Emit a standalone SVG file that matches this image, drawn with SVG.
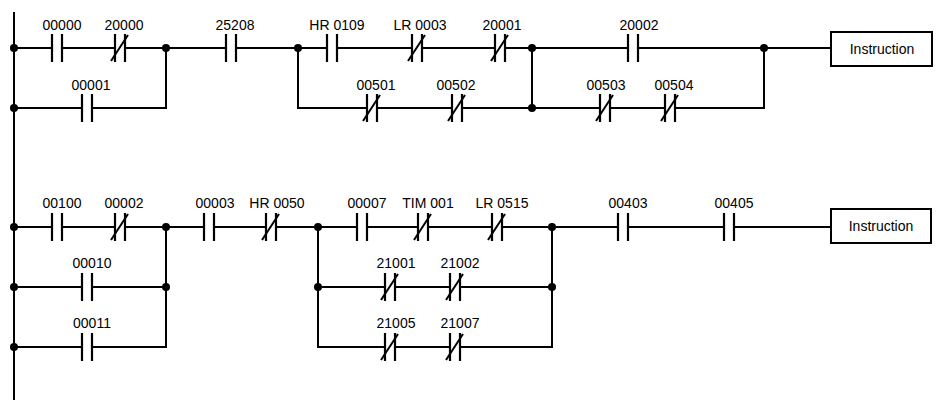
<svg xmlns="http://www.w3.org/2000/svg" width="940" height="415" viewBox="0 0 940 415">
<defs>
<style>
.w{stroke:#000;stroke-width:2;fill:none}
.t{font-family:"Liberation Sans",Arial,sans-serif;font-size:14px;fill:#000;text-anchor:middle}
.d{fill:#000}
</style>
<g id="no"><rect x="-4" y="-3" width="8" height="6" fill="#fff"/><path d="M-5,-14V14M5,-14V14" stroke="#000" stroke-width="2.2"/></g>
<g id="nc"><use href="#no"/><path d="M-9,13L8,-13" stroke="#000" stroke-width="2"/></g>
</defs>
<rect width="940" height="415" fill="#fff"/>
<g id="connectors" class="w">
<path d="M14,12V400"/>
<path d="M14,48H831M14,108H166V48M298,48V108H532V48M532,108H764V48"/>
<path d="M14,227H831M14,287H166M14,347H166V227M318,227V347H552V227M318,287H552"/>
</g>
<g class="d">
<circle cx="14" cy="48" r="4"/><circle cx="14" cy="108" r="4"/><circle cx="166" cy="48" r="4"/><circle cx="298" cy="48" r="4"/><circle cx="532" cy="48" r="4"/><circle cx="532" cy="108" r="4"/><circle cx="764" cy="48" r="4"/>
<circle cx="14" cy="227" r="4"/><circle cx="14" cy="287" r="4"/><circle cx="14" cy="347" r="4"/><circle cx="166" cy="227" r="4"/><circle cx="166" cy="287" r="4"/><circle cx="318" cy="227" r="4"/><circle cx="318" cy="287" r="4"/><circle cx="552" cy="227" r="4"/><circle cx="552" cy="287" r="4"/>
</g>
<g id="c00000"><use href="#no" x="57" y="48"/><text class="t" x="62" y="30">00000</text></g>
<g id="c20000"><use href="#nc" x="120" y="48"/><text class="t" x="124" y="30">20000</text></g>
<g id="c00001"><use href="#no" x="87" y="108"/><text class="t" x="91" y="90">00001</text></g>
<g id="c25208"><use href="#no" x="231" y="48"/><text class="t" x="235" y="30">25208</text></g>
<g id="cHR0109"><use href="#no" x="332" y="48"/><text class="t" x="337" y="30">HR 0109</text></g>
<g id="cLR0003"><use href="#nc" x="417" y="48"/><text class="t" x="420" y="30">LR 0003</text></g>
<g id="c20001"><use href="#nc" x="500" y="48"/><text class="t" x="502" y="30">20001</text></g>
<g id="c00501"><use href="#nc" x="372" y="108"/><text class="t" x="376" y="90">00501</text></g>
<g id="c00502"><use href="#nc" x="457" y="108"/><text class="t" x="456" y="90">00502</text></g>
<g id="c20002"><use href="#no" x="633" y="48"/><text class="t" x="639" y="30">20002</text></g>
<g id="c00503"><use href="#nc" x="605" y="108"/><text class="t" x="606" y="90">00503</text></g>
<g id="c00504"><use href="#nc" x="670" y="108"/><text class="t" x="674" y="90">00504</text></g>
<g id="i1"><rect x="831" y="32" width="101" height="34" class="w" fill="#fff"/><text class="t" x="882" y="54">Instruction</text></g>
<g id="c00100"><use href="#no" x="57" y="227"/><text class="t" x="62" y="208">00100</text></g>
<g id="c00002"><use href="#nc" x="120" y="227"/><text class="t" x="124" y="208">00002</text></g>
<g id="c00010"><use href="#no" x="87" y="287"/><text class="t" x="92" y="268">00010</text></g>
<g id="c00011"><use href="#no" x="87" y="347"/><text class="t" x="92" y="328">00011</text></g>
<g id="c00003"><use href="#no" x="209" y="227"/><text class="t" x="215" y="208">00003</text></g>
<g id="cHR0050"><use href="#nc" x="271" y="227"/><text class="t" x="277" y="208">HR 0050</text></g>
<g id="c00007"><use href="#no" x="362" y="227"/><text class="t" x="367" y="208">00007</text></g>
<g id="cTIM001"><use href="#nc" x="423" y="227"/><text class="t" x="428" y="208">TIM 001</text></g>
<g id="cLR0515"><use href="#nc" x="497" y="227"/><text class="t" x="502" y="208">LR 0515</text></g>
<g id="c21001"><use href="#nc" x="390" y="287"/><text class="t" x="396" y="268">21001</text></g>
<g id="c21002"><use href="#nc" x="455" y="287"/><text class="t" x="460" y="268">21002</text></g>
<g id="c21005"><use href="#nc" x="390" y="347"/><text class="t" x="396" y="328">21005</text></g>
<g id="c21007"><use href="#nc" x="455" y="347"/><text class="t" x="460" y="328">21007</text></g>
<g id="c00403"><use href="#no" x="623" y="227"/><text class="t" x="628" y="208">00403</text></g>
<g id="c00405"><use href="#no" x="729" y="227"/><text class="t" x="734" y="208">00405</text></g>
<g id="i2"><rect x="831" y="209" width="100" height="34" class="w" fill="#fff"/><text class="t" x="881" y="231">Instruction</text></g>
</svg>
